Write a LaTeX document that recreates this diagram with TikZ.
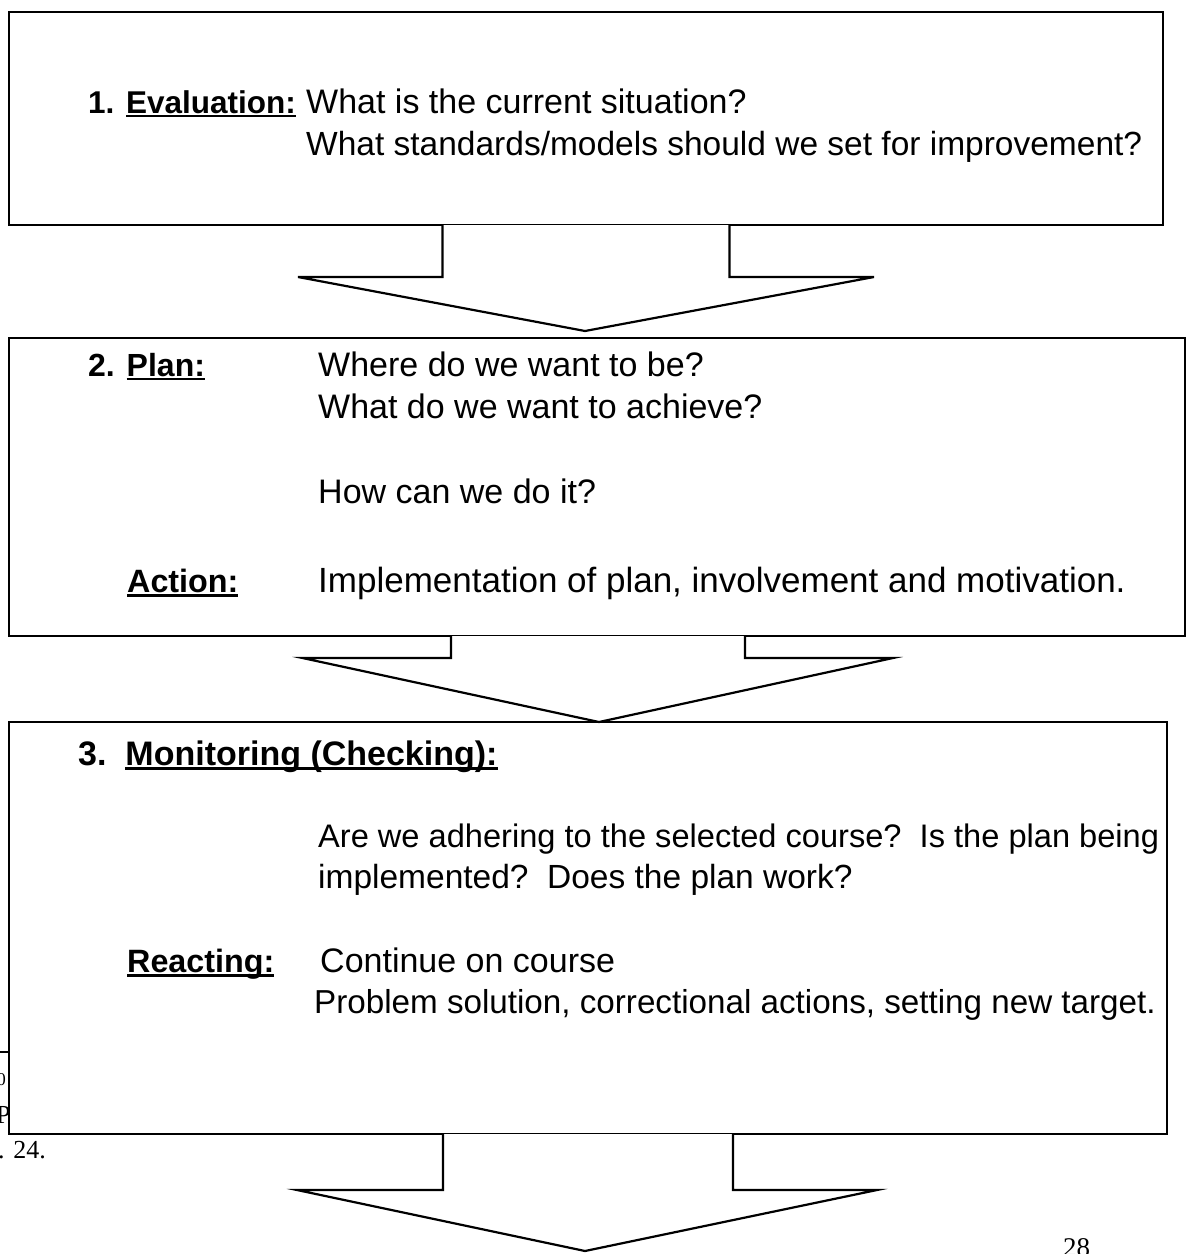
\documentclass[tikz,border=0pt]{standalone}
\usepackage{fontspec}
\setmainfont{Liberation Sans}
\newfontfamily\serifface{Liberation Serif}
% underline at a fixed depth below the baseline
\newcommand\ulbar[1]{\setbox0\hbox{#1}\rlap{\rule[-0.14em]{\wd0}{0.08em}}\box0}
\begin{document}
\begin{tikzpicture}[x=1pt,y=-1pt,
  frame/.style={draw=black,line width=2.4pt,fill=white,inner sep=0pt,outer sep=0pt,anchor=north west},
  blockarrow/.style={draw=black,line width=2.2pt,line join=miter,fill=white},
  txt/.style={anchor=base west,inner sep=0pt,font=\fontsize{34}{40}\selectfont},
  txtsz/.style={anchor=base west,inner sep=0pt,font=\fontsize{#1}{40}\selectfont},
  lbl/.style={anchor=base west,inner sep=0pt,font=\bfseries\fontsize{#1}{40}\selectfont},
  foot/.style={inner sep=0pt,font=\serifface\fontsize{26}{30}\selectfont}]
\useasboundingbox (0,0) rectangle (1186,1254);

% footnote remains at the left page edge, partly hidden by the third box
\draw[line width=1.4pt] (-20,1052) coordinate (rulestart) -- (12,1052) coordinate (ruleend);
\node[foot,anchor=base east,font=\serifface\fontsize{18}{20}\selectfont] (fn1) at (6,1085) {0};
\node[foot,anchor=base west] (fn2) at (-4,1123) {Pr};
\node[foot,anchor=base east] (fn3) at (46,1158) {p. 24.};
\node[foot,anchor=base west,font=\serifface\fontsize{27}{30}\selectfont] (pagenum) at (1063,1256) {28};

% three stage boxes
\node[frame,minimum width=1154pt,minimum height=213pt] (b1) at (9,12) {};
\node[frame,minimum width=1176pt,minimum height=298pt] (b2) at (9,338) {};
\node[frame,minimum width=1158pt,minimum height=412pt] (b3) at (9,722) {};

% block arrows hanging below each box
\draw[blockarrow] ([xshift=-143.5pt]b1.south) -- ++(0,52) -- ++(-144.5,0)
  -- ([xshift=-1pt,yshift=-106pt]b1.south) -- ([xshift=288pt,yshift=-52pt]b1.south)
  -- ++(-144.5,0) -- ([xshift=143.5pt]b1.south);
\draw[blockarrow] ([xshift=-146pt]b2.south) -- ++(0,22) -- ++(-148.5,0)
  -- ([xshift=2pt,yshift=-86pt]b2.south) -- ([xshift=296pt,yshift=-22pt]b2.south)
  -- ++(-148,0) -- ([xshift=148pt]b2.south);
\draw[blockarrow] ([xshift=-145pt]b3.south) -- ++(0,56) -- ++(-146,0)
  -- ([xshift=-3pt,yshift=-117pt]b3.south) -- ([xshift=289pt,yshift=-56pt]b3.south)
  -- ++(-144,0) -- ([xshift=145pt]b3.south);

% stage 1
\node[lbl=31.5] (l1) at (88,113) {1. \ulbar{Evaluation:}};
\node[txt] (t1a) at (306,113) {What is the current situation?};
\node[txtsz=33.5] (t1b) at (306,155) {What standards/models should we set for improvement?};

% stage 2
\node[lbl=32] (l2) at (88,376) {2. \ulbar{Plan:}};
\node[txt] (t2a) at (318,376) {Where do we want to be?};
\node[txt] (t2b) at (318,418) {What do we want to achieve?};
\node[txt] (t2c) at (318,503) {How can we do it?};
\node[lbl=32.3] (l2b) at (127,592) {\ulbar{Action:}};
\node[txtsz=35] (t2d) at (318,592) {Implementation of plan, involvement and motivation.};

% stage 3
\node[lbl=34] (l3) at (78,765) {3.\ \ \ulbar{Monitoring (Checking):}};
\node[txtsz=32.6] (t3a) at (318,847) {Are we adhering to the selected course?\ \ Is the plan being};
\node[txtsz=33.5] (t3b) at (318,888) {implemented?\ \ Does the plan work?};
\node[lbl=32.3] (l3b) at (127,972) {\ulbar{Reacting:}};
\node[txt] (t3c) at (320,972) {Continue on course};
\node[txtsz=33.2] (t3d) at (314,1013) {Problem solution, correctional actions, setting new target.};
\end{tikzpicture}
\end{document}
